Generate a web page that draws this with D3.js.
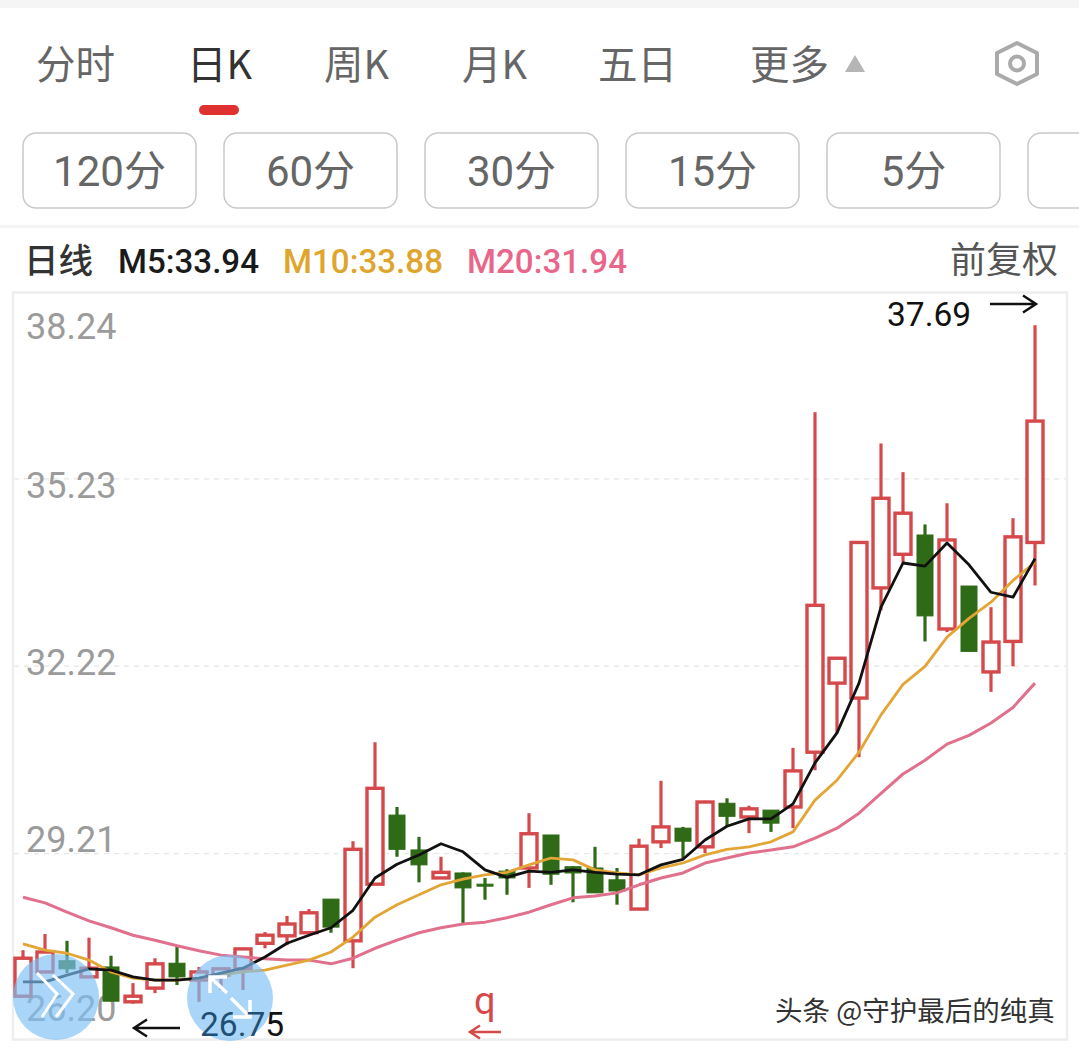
<!DOCTYPE html>
<html><head><meta charset="utf-8">
<style>html,body{margin:0;padding:0;background:#fff;overflow:hidden}svg{display:block}</style>
<script src="https://cdn.jsdelivr.net/npm/d3@7/dist/d3.min.js"></script></head>
<body><svg id="c" width="1079" height="1049"></svg>
<script>
const tabs=["分时","日K","周K","月K","五日","更多"];
const periods=["120分","60分","30分","15分","5分",""];
const priceTicks=[38.24,35.23,32.22,29.21,26.20];
const highs=[27.65,27.91,27.80,27.85,27.56,27.12,27.52,27.70,27.38,27.36,27.68,27.94,28.20,28.31,28.47,29.40,30.99,29.95,29.47,29.15,28.90,28.81,28.95,29.85,29.50,29.00,29.31,28.97,29.44,30.37,29.63,30.05,30.09,29.97,29.90,30.90,36.29,32.36,34.20,35.79,35.33,34.49,34.83,33.50,33.16,34.59,37.69];
const lows=[26.91,27.30,27.28,27.22,26.83,26.79,26.96,27.09,26.82,27.01,27.01,27.68,27.73,27.93,27.93,27.36,28.71,29.15,28.74,28.81,28.07,28.46,28.54,28.65,28.70,28.42,28.57,28.38,28.31,29.29,29.13,29.21,29.63,29.53,29.55,29.61,30.54,31.14,30.75,33.11,33.88,32.61,32.76,32.45,31.80,32.21,33.51];
const opens=[26.91,27.30,27.48,27.22,27.38,26.82,27.04,27.44,27.17,27.25,27.35,27.76,27.88,27.93,28.47,27.80,28.71,29.82,29.26,28.81,28.89,28.71,28.92,28.97,29.50,28.99,28.97,28.78,28.31,29.39,29.61,29.31,30.01,29.79,29.90,29.95,30.83,31.94,31.70,33.47,34.01,34.32,32.81,33.50,32.12,32.61,34.20];
const closes=[27.52,27.62,27.35,27.36,26.83,26.91,27.43,27.22,27.30,27.35,27.67,27.89,28.07,28.25,28.02,29.27,30.25,29.27,29.02,28.90,28.65,28.68,28.81,29.52,28.87,28.89,28.57,28.60,29.32,29.63,29.40,30.03,29.80,29.92,29.69,30.53,33.19,32.34,34.20,34.91,34.67,33.02,34.24,32.45,32.60,34.29,36.15];
const m5=[27.14,27.14,27.25,27.35,27.33,27.22,27.17,27.17,27.20,27.28,27.36,27.54,27.76,27.89,28.01,28.29,28.81,29.03,29.18,29.36,29.23,28.94,28.82,28.92,28.90,28.94,28.90,28.87,28.86,29.02,29.11,29.42,29.64,29.76,29.76,30.00,30.66,31.14,31.94,33.16,33.87,33.82,34.19,33.84,33.40,33.32,33.94];
const m10=[27.75,27.65,27.60,27.49,27.30,27.20,27.17,27.17,27.20,27.25,27.30,27.33,27.41,27.49,27.62,27.86,28.18,28.38,28.54,28.70,28.79,28.86,28.90,29.02,29.13,29.10,28.94,28.89,28.86,28.97,29.05,29.18,29.27,29.31,29.39,29.55,30.06,30.38,30.83,31.43,31.92,32.21,32.68,32.98,33.24,33.59,33.88];
const m20=[28.50,28.41,28.26,28.12,28.01,27.89,27.81,27.72,27.64,27.57,27.54,27.51,27.49,27.49,27.43,27.52,27.68,27.81,27.93,28.01,28.07,28.10,28.17,28.26,28.38,28.49,28.52,28.57,28.70,28.81,28.89,29.05,29.13,29.21,29.26,29.31,29.45,29.61,29.85,30.17,30.48,30.70,30.96,31.10,31.30,31.55,31.94];

const RED="#d6494b",GREEN="#2f6a17",SANS="Roboto,'Noto Sans CJK SC',sans-serif",CJK="'Noto Sans CJK SC',Roboto,sans-serif";
const svg=d3.select("#c");
const x=d3.scaleLinear().domain([0,46]).range([23,1035]);
const y=d3.scaleLinear().domain([26.20,38.24]).range([1040.4,291]);
const txt=(g,s,px,py,size,fill,o={})=>{const t=g.append("text").attr("x",px).attr("y",py).attr("font-size",size).attr("fill",fill)
  .attr("font-family",o.family||CJK).attr("font-weight",o.weight||400).attr("text-anchor",o.anchor||"start").text(s);
  if(o.len) t.attr("textLength",o.len).attr("lengthAdjust","spacingAndGlyphs");return t;};

// page chrome
svg.append("rect").attr("width",1079).attr("height",8).attr("fill","#f5f5f5");
svg.append("rect").attr("y",225).attr("width",1079).attr("height",3).attr("fill","#f4f4f4");
const head=svg.append("g");
const tabX=[36,187,324,462,598,750];
tabs.forEach((t,i)=>txt(head,t,tabX[i],79,39.5,i==1?"#333":"#666"));
head.append("rect").attr("x",199).attr("y",105).attr("width",40).attr("height",10).attr("rx",5).attr("fill","#e03131");
head.append("path").attr("d","M855 55L865 72H845Z").attr("fill","#b5b5b5");
head.append("path").attr("d","M1017 43L1037 53V74L1017 84L997 74V53Z").attr("fill","none").attr("stroke","#aaa").attr("stroke-width",4).attr("stroke-linejoin","round");
head.append("circle").attr("cx",1017).attr("cy",63.5).attr("r",7).attr("fill","none").attr("stroke","#aaa").attr("stroke-width",4);
const btnX=[23,224,425,626,827,1028];
periods.forEach((p,i)=>{
  head.append("rect").attr("x",btnX[i]).attr("y",133).attr("width",173).attr("height",75).attr("rx",13).attr("fill","#fff").attr("stroke","#c9c9c9").attr("stroke-width",1.5);
  if(p) txt(head,p,btnX[i]+86.5,186,42,"#666",{anchor:"middle",family:SANS});
});
// legend
txt(head,"日线",24,273,34.5,"#333",{weight:500});
txt(head,"M5:33.94",118,273,34,"#1a1a1a",{family:SANS,weight:500,len:141});
txt(head,"M10:33.88",283,273,34,"#e0a52c",{family:SANS,weight:500,len:160});
txt(head,"M20:31.94",467,273,34,"#e8668a",{family:SANS,weight:500,len:160});
txt(head,"前复权",950,273,36,"#555");

// frame
svg.append("rect").attr("x",13).attr("y",292.5).attr("width",1054).attr("height",747).attr("fill","#fff").attr("stroke","#eeeeee").attr("stroke-width",2.5);

// axis with dashed gridlines
const labelShift=[47,19,9,-2,-20];
const axis=svg.append("g").attr("transform","translate(14,0)")
  .call(d3.axisRight(y).tickValues(priceTicks).tickSize(1052).tickFormat(d3.format(".2f")));
axis.select(".domain").remove();
axis.selectAll("line").attr("stroke","#e6e6e6").attr("stroke-width",1.2).attr("stroke-dasharray","5 5");
axis.selectAll("text").attr("x",12).attr("dy",null).attr("text-anchor","start")
  .attr("y",(d,i)=>labelShift[i]).attr("font-family",SANS).attr("font-size",36).attr("fill","#9b9b9b").attr("stroke","none");
axis.selectAll(".tick").filter((d,i)=>i==0||i==4).select("line").remove();

// candles
const bars=opens.map((o,i)=>({i,o,c:closes[i],h:highs[i],l:lows[i]}));
const g=svg.append("g");
const col=d=>d.c>=d.o?RED:GREEN;
g.selectAll("line.w").data(bars).join("line").attr("class","w")
 .attr("x1",d=>x(d.i)).attr("x2",d=>x(d.i)).attr("y1",d=>y(d.h)).attr("y2",d=>y(d.l))
 .attr("stroke",col).attr("stroke-width",3.2);
const bw=16;
g.selectAll("rect.b").data(bars).join("rect").attr("class","b")
 .attr("x",d=>x(d.i)-bw/2).attr("width",bw)
 .attr("y",d=>y(Math.max(d.o,d.c))).attr("height",d=>Math.max(2,Math.abs(y(d.o)-y(d.c))))
 .attr("fill",d=>d.c>=d.o?"#fff":GREEN).attr("stroke",col).attr("stroke-width",d=>d.c>=d.o?3.4:1);

// moving averages
const line=d3.line().x((d,i)=>x(i)).y(d=>y(d));
[[m20,"#e0708c",3],[m10,"#e3a535",2.8],[m5,"#111",2.8]].forEach(([s,c,w])=>
  g.append("path").datum(s).attr("d",line).attr("fill","none").attr("stroke",c).attr("stroke-width",w).attr("stroke-linejoin","round"));

// annotations
const ov=svg.append("g");
const arrow=(x1,x2,yy,c,w,hs)=>{const d=x2>x1?-1:1;
  ov.append("path").attr("d",`M${x1} ${yy}H${x2}M${x2+d*hs} ${yy-hs*0.65}L${x2} ${yy}L${x2+d*hs} ${yy+hs*0.65}`).attr("fill","none").attr("stroke",c).attr("stroke-width",w);};
txt(ov,"37.69",887,326,33.5,"#111",{family:SANS});
arrow(990,1036,304,"#111",2.5,13);
arrow(180,134,1028,"#111",2.5,13);
txt(ov,"q",474,1014,38,"#d6494b",{family:SANS});
arrow(501,470,1032,"#d6494b",2.5,10);

// overlay circles and icons
[[56,997],[230,998]].forEach(([cx,cy])=>ov.append("circle").attr("cx",cx).attr("cy",cy).attr("r",43).attr("fill","#7cc0f5").attr("fill-opacity",.66));
ov.append("path").attr("d","M37 973L57 994L42 1017M53 975L73 994L56 1017").attr("fill","none").attr("stroke","#fff").attr("stroke-width",3);
ov.append("path").attr("d","M227 977H210V993M210 977L227 993M231 998L250 1017M233 1017H250V1000").attr("fill","none").attr("stroke","#fff").attr("stroke-width",3.5);

const lab=txt(ov,"",200,1036,33.5,"#111",{family:SANS});
lab.append("tspan").attr("fill","#1f4f73").text("26.7");
lab.append("tspan").text("5");

const wm=txt(ov,"头条 @守护最后的纯真",775,1021,27.5,"#333");
wm.attr("stroke","#fff").attr("stroke-width",3).attr("paint-order","stroke");
</script></body></html>
